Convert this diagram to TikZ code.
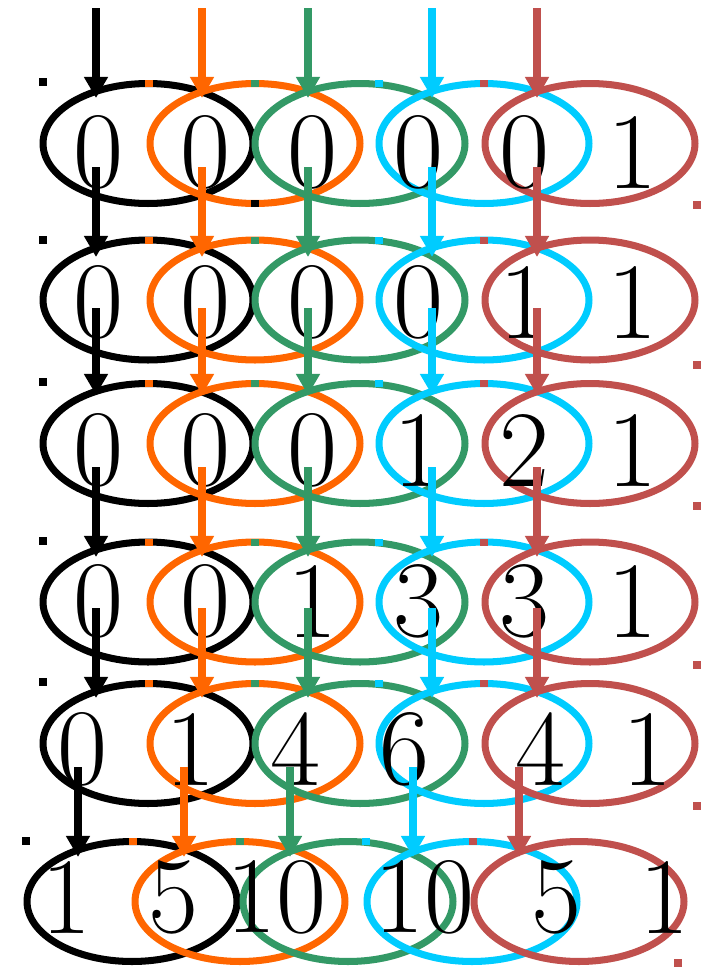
\documentclass[tikz,border=0pt]{standalone}
\usetikzlibrary{arrows.meta, shapes.geometric}
\definecolor{orng}{RGB}{255,102,0}
\definecolor{grn}{RGB}{51,153,102}
\definecolor{cyn}{RGB}{0,204,255}
\definecolor{rd}{RGB}{192,80,77}

\begin{document}
\begin{tikzpicture}[x=0.02cm, y=-0.02cm,
  num/.style={font=\fontsize{62}{62}\selectfont, inner sep=0pt},
  ring/.style={draw=#1, ellipse, line width=4pt, minimum width=4.2cm, minimum height=2.4cm, inner sep=0pt},
  arr/.style={draw=#1, line width=4pt, -{Triangle[width=13pt,length=12pt]}},
  tick/.style={fill=#1, minimum width=0.16cm, minimum height=0.14cm, inner sep=0pt},
  dot/.style={fill=#1, minimum size=0.17cm, inner sep=0pt}]
  \useasboundingbox (0,0) rectangle (711,967);

  % rings
  \foreach \r/\y in {1/143.5, 2/300, 3/443.5, 4/602, 5/743.5}
    \foreach \c/\x/\col in {1/148/black, 2/255/orng, 3/360/grn, 4/484/cyn, 5/590/rd}
      \node[ring=\col] (e\r\c) at (\x,\y) {};
  \foreach \c/\x/\col in {1/132/black, 2/240/orng, 3/348/grn, 4/472/cyn, 5/579/rd}
    \node[ring=\col] (e6\c) at (\x,901.5) {};

  % little marks on the rings
  \foreach \r/\y/\p/\q/\s/\t in {1/83.5/149/255/379/484, 2/240/149/255/379/484,
      3/383.5/149/255/379/484, 4/542/149/255/379/484, 5/683.5/149/255/379/484,
      6/841.5/133/240/366/473} {
    \node[tick=orng] (m\r1) at (\p,\y) {};
    \node[tick=grn] (m\r2) at (\q,\y) {};
    \node[tick=cyn] (m\r3) at (\s,\y) {};
    \node[tick=rd] (m\r4) at (\t,\y) {};
  }
  \node[tick=black] (m15) at (255,203.5) {};

  % corner dots
  \foreach \r/\x/\y in {1/43/82, 2/43/240, 3/43/382, 4/43/541, 5/43/682, 6/26/841}
    \node[dot=black] (l\r) at (\x,\y) {};
  \foreach \r/\x/\y in {1/697/205, 2/697/365, 3/697/506, 4/697/665, 5/697/806, 6/678/963}
    \node[dot=rd] (r\r) at (\x,\y) {};

  % numbers
  \foreach \c/\x/\v in {1/98/0, 2/205/0, 3/312/0, 4/418/0, 5/524/0, 6/632/1}
    \node[num] (d1\c) at (\x,152) {\v};
  \foreach \c/\x/\v in {1/98/0, 2/205/0, 3/312/0, 4/418/0, 5/524/1, 6/632/1}
    \node[num] (d2\c) at (\x,302) {\v};
  \foreach \c/\x/\v in {1/98/0, 2/205/0, 3/312/0, 4/418/1, 5/524/2, 6/632/1}
    \node[num] (d3\c) at (\x,450) {\v};
  \foreach \c/\x/\v in {1/98/0, 2/205/0, 3/312/1, 4/418/3, 5/524/3, 6/632/1}
    \node[num] (d4\c) at (\x,601) {\v};
  \foreach \c/\x/\v in {1/82/0, 2/190/1, 3/295/4, 4/404/6, 5/540/4, 6/647/1}
    \node[num] (d5\c) at (\x,749) {\v};
  \foreach \c/\x/\v in {1/66/1, 2/173/5, 3/276/10, 4/424/10, 5/556/5, 6/664/1}
    \node[num] (d6\c) at (\x,897) {\v};

  % arrows
  \foreach \r/\ys/\yt in {0/8/98, 1/167/257, 2/308/395, 3/467/557, 4/608/698}
    \foreach \c/\x/\col in {1/96/black, 2/202/orng, 3/308/grn, 4/432/cyn, 5/537/rd} {
      \coordinate (s\r\c) at (\x,\ys);
      \coordinate (t\r\c) at (\x,\yt);
      \draw[arr=\col] (s\r\c) -- (t\r\c);
    }
  \foreach \c/\x/\col in {1/78/black, 2/184/orng, 3/290/grn, 4/413/cyn, 5/519/rd} {
    \coordinate (s5\c) at (\x,767);
    \coordinate (t5\c) at (\x,857);
    \draw[arr=\col] (s5\c) -- (t5\c);
  }

\end{tikzpicture}
\end{document}
